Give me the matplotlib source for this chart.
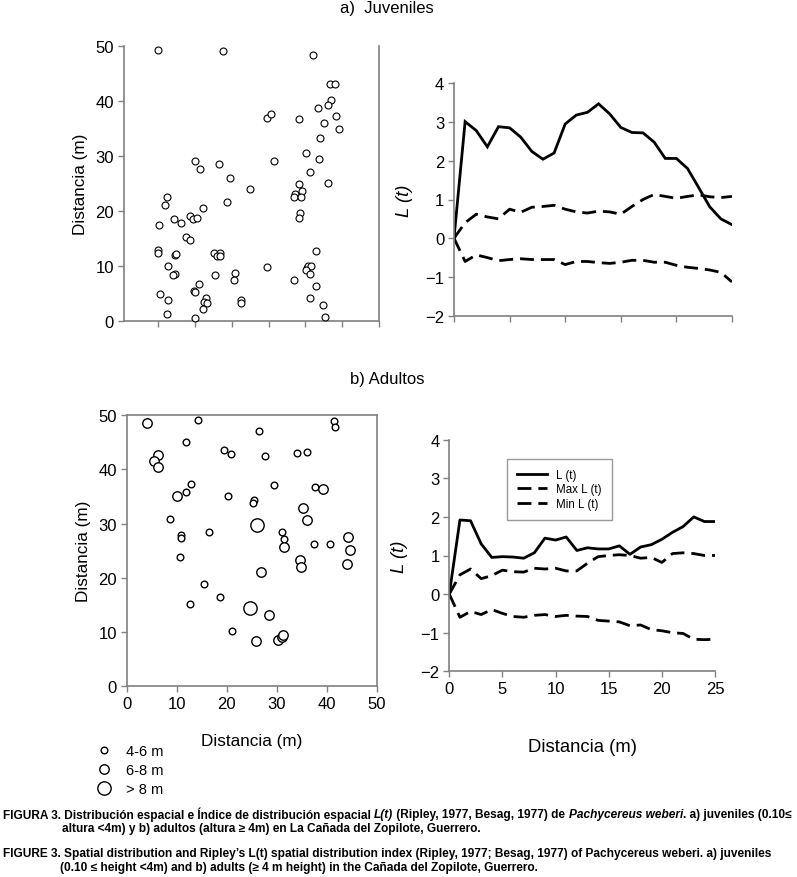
import matplotlib
matplotlib.use("Agg")
import matplotlib.pyplot as plt
from matplotlib.lines import Line2D

plt.rcParams['font.family'] = ['Liberation Sans', 'DejaVu Sans']

# ---------------- data ----------------
# a) Juveniles: spatial positions (x in tick units, y in m)
juv_x = [0, 17.5, 42.1, 46.8, 48.0, 47.0, 46.2, 43.3, 48.3, 38.3, 45.0, 49.1, 29.5, 30.7,
         44.0, 40.1, 31.5, 43.8, 41.3, 46.1, 9.9, 11.4, 16.5, 19.6, 25.0, 38.3, 37.3, 36.9,
         39.2, 38.8, 18.7, 2.3, 1.9, 12.3, 38.5, 38.3, 0.2, 4.4, 6.3, 8.6, 9.5, 10.7, 7.7,
         8.7, 0.0, -0.1, 4.6, 4.8, 15.3, 16.7, 16.0, 16.8, 42.9, 2.6, 4.5, 4.1, 15.5, 21.0,
         20.7, 29.6, 40.4, 40.6, 41.6, 40.3, 41.2, 36.9, 42.9, 11.2, 0.4, 2.6, 9.8, 10.0,
         13.0, 12.5, 13.2, 12.3, 22.4, 22.4, 41.2, 44.7, 2.3, 10.1, 45.3]
juv_y = [49.4, 49.2, 48.4, 43.2, 43.1, 40.2, 39.4, 38.8, 37.3, 36.7, 36.0, 34.9, 37.0, 37.6,
         33.4, 30.5, 29.1, 29.5, 27.1, 25.2, 29.2, 27.6, 28.6, 26.1, 24.0, 24.9, 23.1, 22.6,
         23.6, 22.5, 21.6, 22.5, 21.1, 20.5, 19.6, 18.8, 17.5, 18.5, 17.8, 19.2, 18.5, 18.7,
         15.3, 14.7, 12.9, 12.4, 12.1, 12.2, 12.4, 12.4, 11.9, 11.8, 12.8, 10.1, 8.5, 8.4,
         8.3, 8.8, 7.5, 9.9, 9.6, 10.1, 10.0, 9.3, 8.6, 7.4, 6.4, 6.8, 4.9, 3.9, 5.4, 5.2,
         4.1, 3.5, 3.2, 2.2, 3.8, 3.2, 4.1, 2.9, 1.2, 0.5, 0.8]

# b) Adultos: positions and height class (0: 4-6 m, 1: 6-8 m, 2: > 8 m)
adu_x = [4.1, 14.2, 26.5, 41.5, 41.7, 11.9, 19.5, 20.8, 27.6, 34.0, 36.1, 6.3, 5.5, 6.2,
         12.8, 11.9, 10.1, 20.2, 29.5, 37.7, 39.3, 25.5, 25.2, 35.2, 36.1, 8.7, 26.0, 10.9,
         10.8, 16.5, 31.1, 31.5, 31.4, 37.4, 40.7, 44.3, 44.6, 10.7, 34.7, 34.8, 44.0, 26.9,
         15.4, 18.6, 12.6, 24.7, 28.4, 21.0, 25.9, 30.3, 31.1, 31.2]
adu_y = [48.6, 49.1, 47.1, 48.9, 47.8, 45.1, 43.6, 42.9, 42.4, 43.0, 43.1, 42.7, 41.6, 40.4,
         37.3, 35.9, 35.0, 35.0, 37.1, 36.8, 36.4, 34.3, 33.8, 32.8, 30.7, 30.8, 29.8, 27.8,
         27.3, 28.5, 28.4, 27.1, 25.6, 26.2, 26.3, 27.5, 25.1, 23.8, 23.3, 22.0, 22.5, 21.1,
         18.9, 16.4, 15.2, 14.4, 13.1, 10.1, 8.3, 8.6, 9.0, 9.5]
adu_cls = [1, 0, 0, 0, 0, 0, 0, 0, 0, 0, 0, 1, 1, 1,
           0, 0, 1, 0, 0, 0, 1, 0, 0, 1, 1, 0, 2, 0,
           0, 0, 0, 0, 1, 0, 0, 1, 1, 0, 1, 1, 1, 1,
           0, 0, 0, 2, 1, 0, 1, 1, 1, 1]
class_labels = ["4-6 m", "6-8 m", "> 8 m"]

# Ripley's L(t)
t = list(range(0, 26))
juv_L = [0, 3.01, 2.78, 2.36, 2.88, 2.85, 2.61, 2.24, 2.04, 2.2, 2.95, 3.18, 3.25, 3.47,
         3.21, 2.86, 2.73, 2.72, 2.48, 2.06, 2.06, 1.8, 1.31, 0.81, 0.5, 0.35]
juv_max = [0, 0.4, 0.62, 0.55, 0.5, 0.75, 0.67, 0.8, 0.82, 0.85, 0.75, 0.68, 0.65, 0.7,
           0.68, 0.62, 0.82, 1.0, 1.13, 1.08, 1.03, 1.08, 1.12, 1.07, 1.05, 1.08]
juv_min = [0, -0.6, -0.43, -0.5, -0.58, -0.55, -0.53, -0.55, -0.55, -0.55, -0.68, -0.6,
           -0.6, -0.63, -0.65, -0.62, -0.57, -0.57, -0.62, -0.62, -0.7, -0.75, -0.78,
           -0.82, -0.88, -1.13]
adu_L = [0, 1.92, 1.9, 1.3, 0.95, 0.97, 0.96, 0.93, 1.07, 1.45, 1.4, 1.48, 1.13, 1.2,
         1.17, 1.17, 1.25, 1.03, 1.22, 1.28, 1.42, 1.6, 1.75, 2.0, 1.88, 1.88]
adu_max = [0, 0.5, 0.65, 0.4, 0.48, 0.62, 0.58, 0.57, 0.67, 0.65, 0.67, 0.6, 0.6, 0.8,
           0.97, 1.0, 1.02, 1.0, 0.93, 0.95, 0.82, 1.05, 1.07, 1.05, 1.0, 1.0]
adu_min = [0, -0.6, -0.45, -0.53, -0.4, -0.5, -0.58, -0.6, -0.55, -0.53, -0.58, -0.55,
           -0.57, -0.58, -0.68, -0.7, -0.72, -0.82, -0.8, -0.92, -0.95, -1.0, -1.02,
           -1.17, -1.18, -1.17]
line_labels = ["L (t)", "Max L (t)", "Min L (t)"]

# ---------------- figure ----------------
W, H = 797, 878
fig = plt.figure(figsize=(W / 100, H / 100), dpi=100)
GRAY = '#808080'

TICKFS = 12
LABFS = 12.3
sizes = [4.8, 6.8, 9.6]


def axes_px(l, r, top, bot):
    return fig.add_axes([l / W, 1 - bot / H, (r - l) / W, (bot - top) / H])


def style(ax, box=False):
    for s in ['top', 'right']:
        ax.spines[s].set_visible(box)
    for s in ax.spines.values():
        s.set_color(GRAY)
        s.set_linewidth(1.2)
    ax.tick_params(axis='both', colors=GRAY, labelcolor='black', labelsize=TICKFS,
                   length=4, width=1.0, direction='out', pad=3)


# a) scatter
ax1 = axes_px(123.5, 379, 47.3, 322)
ax1.scatter(juv_x, juv_y, s=5.0 ** 2, facecolors='white', edgecolors='black',
            linewidths=0.8, clip_on=False, zorder=3)
ax1.set_xlim(-9.4, 60)
ax1.set_ylim(0, 50)
ax1.set_xticks(range(0, 61, 10))
ax1.set_xticklabels([])
ax1.set_yticks(range(0, 51, 10))
style(ax1)
ax1.spines['right'].set_visible(True)
ax1.set_ylabel('Distancia (m)', fontsize=LABFS, labelpad=5)

# a) L(t)
ax2 = axes_px(454, 732, 84.3, 316.7)
ax2.plot(t, juv_L, color='black', lw=2.0, solid_joinstyle='miter')
ax2.plot(t, juv_max, color='black', lw=2.0, dashes=(5, 2.5))
ax2.plot(t, juv_min, color='black', lw=2.0, dashes=(5, 2.5))
ax2.set_xlim(0, 25)
ax2.set_ylim(-2, 4)
ax2.set_xticks(range(0, 26, 5))
ax2.set_xticklabels([])
style(ax2)
ax2.set_ylabel('L (t)', fontsize=LABFS + 1, fontstyle='italic', labelpad=9)

# b) scatter
ax3 = axes_px(126.7, 376.7, 416, 687.3)
for c in range(3):
    xs = [x for x, k in zip(adu_x, adu_cls) if k == c]
    ys = [y for y, k in zip(adu_y, adu_cls) if k == c]
    ax3.scatter(xs, ys, s=sizes[c] ** 2, facecolors='white', edgecolors='black',
                linewidths=1.0, zorder=3)
ax3.set_xlim(0, 50)
ax3.set_ylim(0, 50)
ax3.set_xticks(range(0, 51, 10))
ax3.set_yticks(range(0, 51, 10))
style(ax3, box=True)
ax3.set_xlabel('Distancia (m)', fontsize=LABFS, labelpad=16)
ax3.set_ylabel('Distancia (m)', fontsize=LABFS, labelpad=5)

handles = [Line2D([], [], ls='none', marker='o', markersize=sizes[c],
                  markerfacecolor='white', markeredgecolor='black', markeredgewidth=1.0)
           for c in range(3)]
fig.legend(handles, class_labels, loc='upper left',
           bbox_to_anchor=(88 / W, 1 - 738 / H), frameon=False, fontsize=10.5,
           handletextpad=0.9, labelspacing=0.35, handlelength=1.2, borderpad=0)

# b) L(t)
ax4 = axes_px(449.3, 715, 440.7, 672.3)
l1, = ax4.plot(t, adu_L, color='black', lw=2.0)
l2, = ax4.plot(t, adu_max, color='black', lw=2.0, dashes=(5, 2.5))
l3, = ax4.plot(t, adu_min, color='black', lw=2.0, dashes=(5, 2.5))
ax4.set_xlim(0, 25)
ax4.set_ylim(-2, 4)
ax4.set_xticks(range(0, 26, 5))
style(ax4)
ax4.set_xlabel('Distancia (m)', fontsize=LABFS + 1, labelpad=30)
ax4.set_ylabel('L (t)', fontsize=LABFS + 1, fontstyle='italic', labelpad=9)
leg = ax4.legend([l1, l2, l3], line_labels, loc='upper left',
                 bbox_to_anchor=((501 - 449.3) / 265.7, (672.3 - 454) / 231.6),
                 fontsize=8.3, frameon=True, fancybox=False, edgecolor=GRAY,
                 handlelength=2.6, borderpad=0.9, labelspacing=0.2)
leg.get_frame().set_linewidth(1.0)

# titles
fig.text(387 / W, 1 - 8 / H, 'a)  Juveniles', ha='center', va='center', fontsize=12)
fig.text(387 / W, 1 - 380 / H, 'b) Adultos', ha='center', va='center', fontsize=12)

# captions with mixed styles
renderer = fig.canvas.get_renderer()
CAPFS = 8.6


def rich(x_px, y_px, segments):
    x = x_px / W
    for txt, italic in segments:
        tt = fig.text(x, 1 - y_px / H, txt, fontsize=CAPFS, fontweight='bold',
                      fontstyle='italic' if italic else 'normal', va='center', ha='left')
        bb = tt.get_window_extent(renderer)
        x = bb.x1 / W


rich(3, 815, [("FIGURA 3. Distribución espacial e Índice de distribución espacial ", False),
              ("L(t)", True),
              (" (Ripley, 1977, Besag, 1977) de ", False),
              ("Pachycereus weberi", True),
              (". a) juveniles (0.10≤", False)])
rich(62, 829, [("altura <4m) y b) adultos (altura ≥ 4m) en La Cañada del Zopilote, Guerrero.", False)])
rich(3, 854, [("FIGURE 3. Spatial distribution and Ripley’s L(t) spatial distribution index "
               "(Ripley, 1977; Besag, 1977) of Pachycereus weberi. a) juveniles", False)])
rich(60, 868, [("(0.10 ≤ height <4m) and b) adults (≥ 4 m height) in the Cañada del Zopilote, Guerrero.", False)])

fig.savefig('out.png', dpi=100)
